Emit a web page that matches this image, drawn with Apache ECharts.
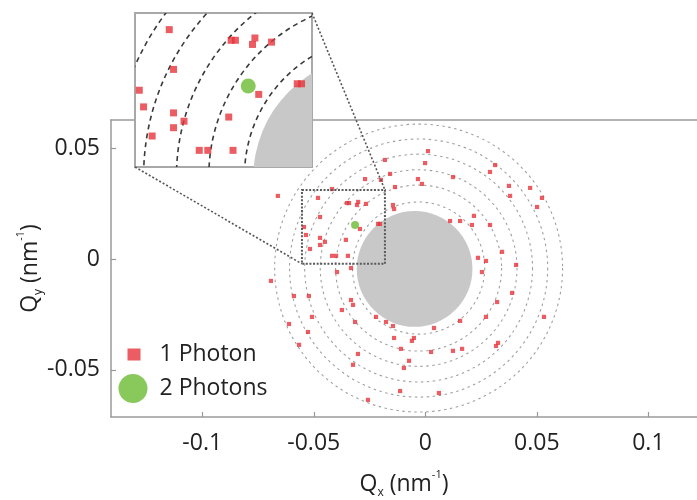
<!DOCTYPE html>
<html><head><meta charset="utf-8">
<script src="https://cdn.jsdelivr.net/npm/echarts@6/dist/echarts.min.js"></script>
<style>html,body{margin:0;padding:0;background:#fff}#c{width:697px;height:500px}</style>
</head><body><div id="c"></div>
<script>
// ---- data ----
const xTicks = [-0.1, -0.05, 0, 0.05, 0.1];
const yTicks = [-0.05, 0, 0.05];
const xRange = [-0.1409, 0.1218];
const yRange = [-0.0712, 0.0626];
const zoomX = [-0.0553, -0.0181];
const zoomY = [-0.0022, 0.0311];
const ringCenter = [-0.0030, -0.0041];
const ringRadii = [0.0297, 0.0373, 0.0442, 0.0512, 0.0580, 0.0647];
const beamstopCenter = [-0.0048, -0.0045];
const beamstopRadius = 0.026;
const onePhoton = [
  [-0.0661,0.0284],[-0.0270,0.0360],[-0.0199,0.0356],[-0.0158,0.0383],[-0.0181,0.0446],
  [-0.0136,0.0324],[-0.0418,0.0315],[-0.0481,0.0275],[-0.0351,0.0252],
  [-0.0342,0.0252],[-0.0306,0.0243],[-0.0301,0.0257],[-0.0266,0.0248],[-0.0145,0.0243],[-0.0140,0.0225],
  [-0.0472,0.0189],[-0.0544,0.0144],[-0.0212,0.0158],[-0.0203,0.0158],[-0.0293,0.0135],
  [-0.0535,0.0108],[-0.0472,0.0095],[-0.0450,0.0077],[-0.0472,0.0063],[-0.0517,0.0045],
  [-0.0356,0.0086],[-0.0418,0.0014],[-0.0400,0.0014],[-0.0347,0.0014],[-0.0396,-0.0059],
  [-0.0333,-0.0041],[-0.0692,-0.0099],[-0.0589,-0.0167],[-0.0522,-0.0167],[-0.0333,-0.0185],
  [-0.0324,-0.0207],[-0.0374,-0.0230],[-0.0508,-0.0261],[-0.0611,-0.0293],[-0.0315,-0.0284],
  [-0.0221,-0.0261],[-0.0176,-0.0284],[-0.0145,-0.0302],[-0.0526,-0.0329],[-0.0140,-0.0356],
  [-0.0060,-0.0369],[-0.0051,-0.0356],[-0.0566,-0.0387],[-0.0109,-0.0405],[-0.0302,-0.0428],
  [-0.0073,-0.0459],[-0.0324,-0.0477],[-0.0096,-0.0491],[-0.0113,-0.0595],[-0.0257,-0.0635],
  [0.0012,0.0486],[-0.0001,0.0432],[-0.0033,0.0360],[-0.0015,0.0338],[0.0124,0.0369],
  [0.0313,0.0423],[0.0290,0.0392],[0.0375,0.0329],[0.0380,0.0284],[0.0470,0.0320],
  [0.0523,0.0275],[0.0501,0.0234],[0.0111,0.0171],[0.0156,0.0171],[0.0218,0.0194],
  [0.0209,0.0153],[0.0290,0.0153],[0.0344,0.0032],[0.0236,0.0005],[0.0272,-0.0009],
  [0.0254,-0.0059],[0.0407,-0.0027],[0.0389,-0.0153],[0.0322,-0.0194],[0.0272,-0.0261],
  [0.0532,-0.0261],[0.0156,-0.0279],[0.0039,-0.0311],[0.0026,-0.0419],[0.0124,-0.0414],
  [0.0165,-0.0405],[0.0317,-0.0392],[0.0326,-0.0378],[0.0061,-0.0604]
];
const twoPhotons = [[-0.0315, 0.0153]];

// ---- styles ----
const FONT = 'Open Sans';
const RED = '#e6353b';
const GREEN = '#6cbb33';
const GRAY_DISK = '#c8c8c8';
const FRAME = '#9a9a9a';

function diskItem(params, api) {
  const c = api.coord(beamstopCenter);
  const s = api.size([api.value(0), api.value(0)]);
  return {type: 'circle', shape: {cx: c[0], cy: c[1], r: (s[0] + s[1]) / 2},
          style: {fill: GRAY_DISK, stroke: 'none'}};
}
function ringMaker(stroke, width, dash) {
  return function (params, api) {
    const c = api.coord(ringCenter);
    const s = api.size([api.value(0), api.value(0)]);
    return {type: 'circle', shape: {cx: c[0], cy: c[1], r: (s[0] + s[1]) / 2},
            style: {fill: 'none', stroke: stroke, lineWidth: width, lineDash: dash}};
  };
}
function boxItem(params, api) {
  const p0 = api.coord([api.value(0), api.value(3)]);
  const p1 = api.coord([api.value(2), api.value(1)]);
  return {type: 'rect', shape: {x: p0[0], y: p0[1], width: p1[0] - p0[0], height: p1[1] - p0[1]},
          style: {fill: 'none', stroke: '#5a5a5a', lineWidth: 2, lineDash: [2, 1.6]}};
}

const titleRich = {
  b: {fontFamily: FONT, fontSize: 23, color: '#222', lineHeight: 30, verticalAlign: 'middle'},
  sub: {fontFamily: FONT, fontSize: 12, color: '#222', lineHeight: 12, verticalAlign: 'bottom'},
  sup: {fontFamily: FONT, fontSize: 11, color: '#222', lineHeight: 12, verticalAlign: 'top'}
};
const frameLine = {show: true, onZero: false, lineStyle: {color: FRAME, width: 1.5}};

const chart = echarts.init(document.getElementById('c'), null, {renderer: 'canvas'});
chart.setOption({
  animation: false,
  backgroundColor: '#fff',
  grid: [
    {left: 111, top: 120, width: 586, height: 297, show: false, outerBoundsMode: 'none', containLabel: false},
    {left: 135, top: 13, width: 177, height: 154, show: true, borderColor: '#a8a8a8', borderWidth: 2,
     backgroundColor: '#fff', z: 5, outerBoundsMode: 'none', containLabel: false}
  ],
  xAxis: [
    {type: 'value', gridIndex: 0, min: xRange[0], max: xRange[1], position: 'bottom',
     splitLine: {show: false}, axisLine: frameLine,
     axisTick: {show: true, inside: true, length: 5, customValues: xTicks, lineStyle: {color: '#999', width: 1.2}},
     axisLabel: {customValues: xTicks, formatter: v => String(v), fontFamily: FONT, fontSize: 23, color: '#222', margin: 15},
     name: '{b|Q}{sub|x}{b| (nm}{sup|-1}{b|)}', nameLocation: 'middle', nameGap: 52,
     nameTextStyle: {rich: titleRich}},
    {type: 'value', gridIndex: 1, min: zoomX[0], max: zoomX[1], show: false},
    {type: 'value', gridIndex: 0, min: xRange[0], max: xRange[1], position: 'top',
     splitLine: {show: false}, axisLine: frameLine, axisTick: {show: false}, axisLabel: {show: false}}
  ],
  yAxis: [
    {type: 'value', gridIndex: 0, min: yRange[0], max: yRange[1], position: 'left',
     splitLine: {show: false}, axisLine: frameLine,
     axisTick: {show: true, inside: true, length: 5, customValues: yTicks, lineStyle: {color: '#999', width: 1.2}},
     axisLabel: {customValues: yTicks, formatter: v => String(v), fontFamily: FONT, fontSize: 23, color: '#222', margin: 11},
     name: '{b|Q}{sub|y}{b| (nm}{sup|-1}{b|)}', nameLocation: 'middle', nameGap: 66, nameRotate: 90,
     nameMoveOverlap: false,
     nameTextStyle: {rich: titleRich}},
    {type: 'value', gridIndex: 1, min: zoomY[0], max: zoomY[1], show: false}
  ],
  legend: [
    {data: [{name: '1 Photon', icon: 'rect'}], left: 127.5, top: 343, itemWidth: 13, itemHeight: 12, padding: 0,
     selectedMode: false, textStyle: {fontFamily: FONT, fontSize: 23, color: '#222', padding: [0, 0, 0, 14]}},
    {data: [{name: '2 Photons', icon: 'circle'}], left: 118.5, top: 374, itemWidth: 29, itemHeight: 29, padding: 0,
     selectedMode: false, textStyle: {fontFamily: FONT, fontSize: 23, color: '#222', padding: [0, 0, 0, 7]}}
  ],
  series: [
    {type: 'custom', name: 'beamstop', xAxisIndex: 0, yAxisIndex: 0, data: [[beamstopRadius]], renderItem: diskItem, z: 2, silent: true},
    {type: 'custom', name: 'rings', xAxisIndex: 0, yAxisIndex: 0, data: ringRadii.map(r => [r]),
     renderItem: ringMaker('#a0a0a0', 1.1, [2.5, 3.5]), z: 2, silent: true},
    {type: 'custom', name: 'zoombox', xAxisIndex: 0, yAxisIndex: 0,
     data: [[zoomX[0], zoomY[0], zoomX[1], zoomY[1]]], renderItem: boxItem, z: 4, silent: true},
    {type: 'scatter', name: '1 Photon', xAxisIndex: 0, yAxisIndex: 0, data: onePhoton,
     symbol: 'rect', symbolSize: 4.2, itemStyle: {color: RED}, z: 3},
    {type: 'scatter', name: '2 Photons', xAxisIndex: 0, yAxisIndex: 0, data: twoPhotons,
     symbol: 'circle', symbolSize: 8, itemStyle: {color: GREEN}, z: 3},
    // inset
    {type: 'custom', name: 'beamstop-inset', xAxisIndex: 1, yAxisIndex: 1, data: [[beamstopRadius]], renderItem: diskItem, clip: true, z: 6, silent: true},
    {type: 'custom', name: 'rings-inset', xAxisIndex: 1, yAxisIndex: 1, data: ringRadii.map(r => [r]),
     renderItem: ringMaker('#3a3a3a', 1.6, [5, 4]), clip: true, z: 6, silent: true},
    {type: 'scatter', name: '1 Photon', xAxisIndex: 1, yAxisIndex: 1, data: onePhoton, clip: true,
     symbol: 'rect', symbolSize: 7, itemStyle: {color: RED}, z: 7},
    {type: 'scatter', name: '2 Photons', xAxisIndex: 1, yAxisIndex: 1, data: twoPhotons, clip: true,
     symbol: 'circle', symbolSize: 15, itemStyle: {color: GREEN}, z: 7}
  ]
});

// connector lines between zoom box and inset (positions from the library's coordinate conversion)
const insetTR = chart.convertToPixel({xAxisIndex: 1, yAxisIndex: 1}, [zoomX[1], zoomY[1]]);
const boxTR = chart.convertToPixel({xAxisIndex: 0, yAxisIndex: 0}, [zoomX[1], zoomY[1]]);
const insetBL = chart.convertToPixel({xAxisIndex: 1, yAxisIndex: 1}, [zoomX[0], zoomY[0]]);
const boxBL = chart.convertToPixel({xAxisIndex: 0, yAxisIndex: 0}, [zoomX[0], zoomY[0]]);
const connStyle = {stroke: '#555', lineWidth: 1.6, lineDash: [2, 2]};
chart.setOption({
  graphic: [
    {type: 'line', z: 20, silent: true, shape: {x1: insetTR[0], y1: insetTR[1], x2: boxTR[0], y2: boxTR[1]}, style: connStyle},
    {type: 'line', z: 20, silent: true, shape: {x1: insetBL[0], y1: insetBL[1], x2: boxBL[0], y2: boxBL[1]}, style: connStyle}
  ]
});
</script>
</body></html>
